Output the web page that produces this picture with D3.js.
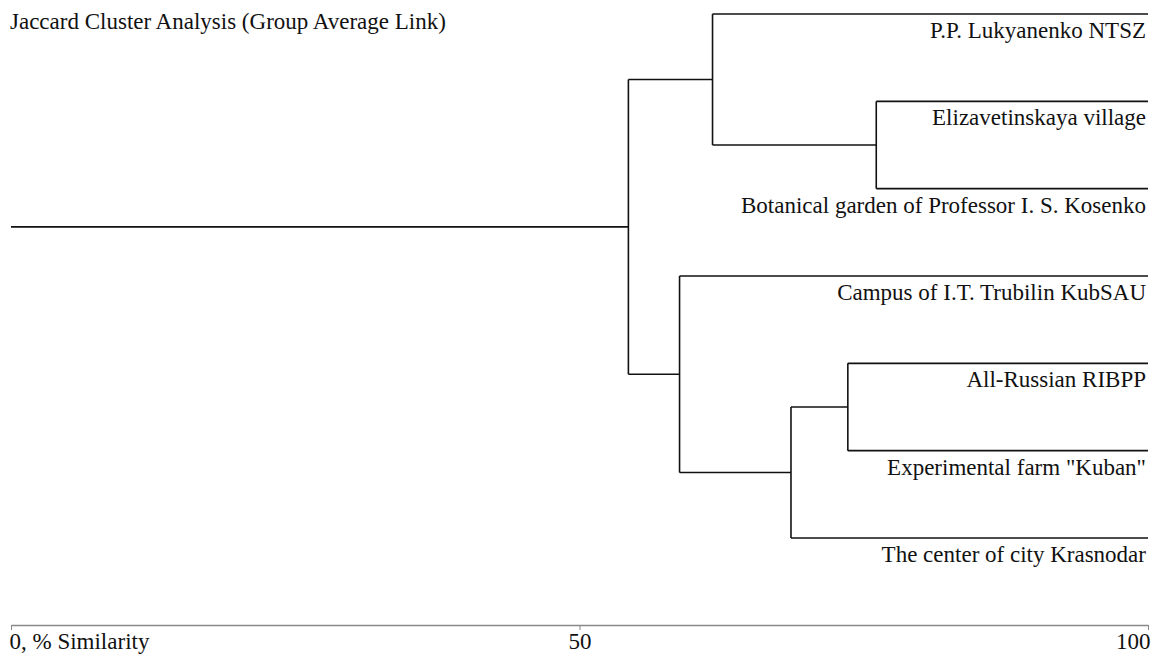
<!DOCTYPE html>
<html>
<head>
<meta charset="utf-8">
<script src="https://cdn.jsdelivr.net/npm/d3@7"></script>
<style>
  body { margin: 0; background: #fff; }
  text { font-family: "Liberation Serif", "Times New Roman", serif; fill: #111; }
</style>
</head>
<body>
<div id="chart"></div>
<script>
// leaves, top to bottom
const leaves = [
  "P.P. Lukyanenko NTSZ",
  "Elizavetinskaya village",
  "Botanical garden of Professor I. S. Kosenko",
  "Campus of I.T. Trubilin KubSAU",
  "All-Russian RIBPP",
  "Experimental farm \"Kuban\"",
  "The center of city Krasnodar"
];
// merges: [child a, child b, similarity %]
const merges = [
  ["Elizavetinskaya village", "Botanical garden of Professor I. S. Kosenko", 76.1],
  ["P.P. Lukyanenko NTSZ", "m0", 61.7],
  ["All-Russian RIBPP", "Experimental farm \"Kuban\"", 73.6],
  ["m2", "The center of city Krasnodar", 68.6],
  ["Campus of I.T. Trubilin KubSAU", "m3", 58.8],
  ["m1", "m4", 54.3]
];
const tickValues = [0, 50, 100];
const tickLabels = ["0, % Similarity", "50", "100"];

let width = 1163, height = 654;

let svg = d3.select("#chart")
  .append("svg")
  .attr("width", width)
  .attr("height", height);

// build tree from merges
let nodes = {};
leaves.forEach(l => nodes[l] = {name: l, sim: 100});
merges.forEach((m, i) => {
  nodes["m" + i] = {name: "m" + i, sim: m[2], children: [nodes[m[0]], nodes[m[1]]]};
});
let root = d3.hierarchy(nodes["m" + (merges.length - 1)]);

let x = d3.scaleLinear().domain([0, 100]).range([11, 1148]);
let y = d3.scalePoint().domain(leaves).range([14, 538]);

// y of internal node = mean of children
root.eachAfter(d => {
  d.py = d.children ? d3.mean(d.children, c => c.py) : y(d.data.name);
  d.px = x(d.data.sim);
});

let g = svg.append("g")
  .attr("fill", "none")
  .attr("stroke", "#111")
  .attr("stroke-width", 1.6);

root.descendants().forEach(d => {
  if (d.children) {
    let ys = d.children.map(c => c.py);
    g.append("line")
      .attr("x1", d.px).attr("x2", d.px)
      .attr("y1", d3.min(ys)).attr("y2", d3.max(ys));
    d.children.forEach(c => {
      g.append("line")
        .attr("x1", d.px).attr("x2", c.px)
        .attr("y1", c.py).attr("y2", c.py);
    });
  }
});

// root stem
g.append("line")
  .attr("x1", x(0)).attr("x2", root.px)
  .attr("y1", root.py).attr("y2", root.py);

// leaf labels
svg.append("g")
  .selectAll("text")
  .data(leaves)
  .enter()
  .append("text")
  .attr("x", x(100) - 2)
  .attr("y", d => y(d) + 24)
  .attr("text-anchor", "end")
  .style("font-size", "23px")
  .text(d => d);

// title
svg.append("text")
  .attr("x", 10)
  .attr("y", 29)
  .style("font-size", "23px")
  .text("Jaccard Cluster Analysis (Group Average Link)");

// axis
let axis = svg.append("g")
  .attr("transform", "translate(0,625)")
  .call(d3.axisBottom(x).tickValues(tickValues).tickSize(5).tickSizeOuter(0)
    .tickFormat((d, i) => tickLabels[i]));
axis.select(".domain").attr("stroke", "#888").attr("stroke-width", 1.5);
axis.selectAll(".tick line").attr("stroke", "#888");
axis.selectAll(".tick text")
  .style("font-size", "23px")
  .attr("fill", "#111")
  .attr("y", 24)
  .attr("dy", 0)
  .attr("text-anchor", (d, i) => i == 0 ? "start" : i == tickValues.length - 1 ? "end" : "middle")
  .attr("dx", (d, i) => i == 0 ? -2 : i == tickValues.length - 1 ? 2 : 0);
</script>
</body>
</html>
